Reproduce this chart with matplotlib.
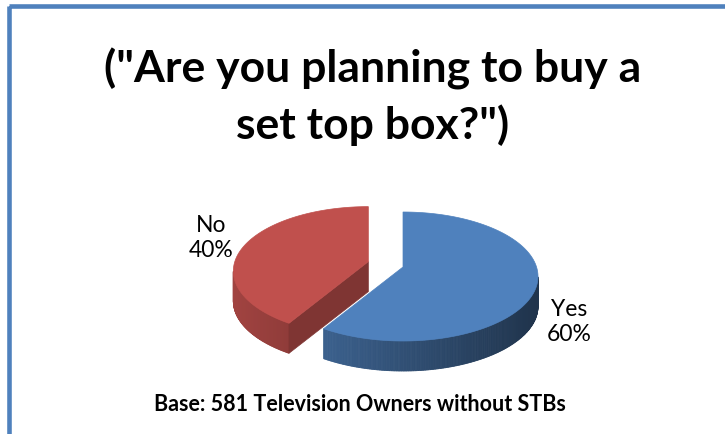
import numpy as np
import matplotlib.pyplot as plt
from matplotlib.patches import Polygon, Rectangle
import matplotlib.colors as mcolors

labels = ['Yes', 'No']
shares = [60, 40]
slice_colors = ['#4F81BD', '#C0504D']
explode = [0.0, 0.27]

title_lines = ['("Are you planning to buy a', 'set top box?")']
base_note = 'Base: 581 Television Owners without STBs'

# pie geometry, in pixels (y grows downward)
cx, cy = 403, 277.5
rx, ry = 135, 64.5
apex_lift = 9.5
depth = 30


def scale_rgb(color, f):
    r, g, b = mcolors.to_rgb(color)
    return (r * f, g * f, b * f)


def shade(color, t):
    # darker toward the right side of the wall
    return scale_rgb(color, 0.62 - 0.22 * np.cos(t))


def arc_xy(t, ox, oy, drop=0.0):
    return cx + ox + rx * np.cos(t), cy + oy - ry * np.sin(t) + drop


fig = plt.figure(figsize=(7.25, 4.35), dpi=100)
ax = fig.add_axes([0, 0, 1, 1])
ax.set_xlim(0, 725)
ax.set_ylim(435, 0)
ax.axis('off')

# slice angle ranges: start at 12 o'clock, go clockwise
fracs = np.array(shares) / sum(shares)
wedges = []
start = np.pi / 2
for frac in fracs:
    end = start - frac * 2 * np.pi
    wedges.append((end, start))  # counter-clockwise from end to start
    start = end

# the exploded slice sits further back, so draw it first
order = sorted(range(len(shares)), key=lambda i: -explode[i])
for i in order:
    t0, t1 = wedges[i]
    color = slice_colors[i]
    mid = (t0 + t1) / 2
    ox = explode[i] * rx * np.cos(mid)
    oy = -explode[i] * ry * np.sin(mid)
    apex = (cx + ox, cy + oy - apex_lift)

    # outer wall: only the front half (sin < 0) is visible
    ts = np.linspace(t0, t1, 300)
    front = ts[np.sin(ts) < 0]
    for a, b in zip(front[:-1], front[1:]):
        xa, ya = arc_xy(a, ox, oy)
        xb, yb = arc_xy(b, ox, oy)
        c = shade(color, (a + b) / 2)
        ax.add_patch(Polygon([(xa, ya), (xb, yb), (xb, yb + depth), (xa, ya + depth)],
                             closed=True, facecolor=c, edgecolor=c, lw=0.6))

    # radial cut faces that turn toward the viewer
    for edge, normal in ((t1, t1 + np.pi / 2), (t0, t0 - np.pi / 2)):
        if np.sin(normal) < -0.05:
            xe, ye = arc_xy(edge, ox, oy)
            c = scale_rgb(color, 0.66)
            ax.add_patch(Polygon([apex, (xe, ye), (xe, ye + depth),
                                  (apex[0], apex[1] + depth)],
                                 closed=True, facecolor=c, edgecolor=c, lw=0.5))

    # top face
    xs, ys = arc_xy(ts, ox, oy)
    pts = [apex] + list(zip(xs, ys))
    ax.add_patch(Polygon(pts, closed=True, facecolor=color, edgecolor=color, lw=0.5))

# data labels
label_pos = {'Yes': (569, 322), 'No': (211, 238)}
for lab, val in zip(labels, shares):
    x, y = label_pos[lab]
    ax.text(x, y, f'{lab}\n{val}%', ha='center', va='center', fontsize=16.5,
            family='Lato', linespacing=1.25, color='#000000')

# title and footnote
ax.text(373, 82, title_lines[0], ha='center', va='baseline', fontsize=32,
        fontweight='bold', family='Lato')
ax.text(373, 139, title_lines[1], ha='center', va='baseline', fontsize=32,
        fontweight='bold', family='Lato')
ax.text(360, 405, base_note, ha='center', va='center', fontsize=15.5,
        fontweight='bold', family='Lato')

# chart-area frame, running past the right and bottom edges
ax.add_patch(Rectangle((9.5, 7), 800, 500, fill=False, edgecolor='#4F81BD',
                       lw=3.3, clip_on=True))

fig.savefig('out.png', dpi=100)
